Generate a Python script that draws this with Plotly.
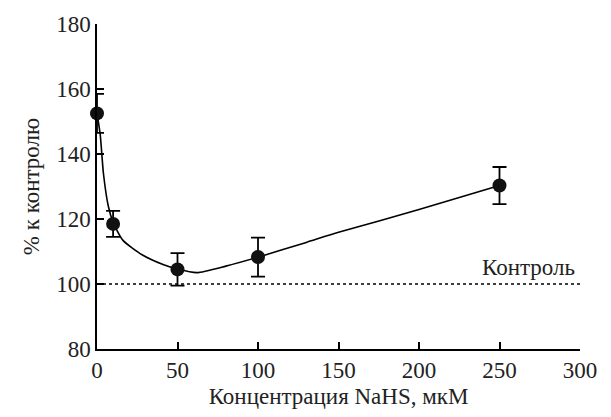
import plotly.graph_objects as go

# measured points
conc = [0, 10, 50, 100, 250]
pct = [152.5, 118.5, 104.5, 108.3, 130.3]
err = [6.0, 4.0, 5.0, 6.0, 5.7]

# fitted curve
curve_x = [0, 2, 4, 7, 10, 16, 28, 41, 50, 62, 80, 101, 130, 150, 200, 250]
curve_y = [152.5, 146, 134, 124, 119, 113.5, 109, 106, 104.6, 103.5, 105.5, 108.4, 112.8, 115.9, 122.9, 130.3]

control_level = 100
control_label = "Контроль"
x_ticks = [0, 50, 100, 150, 200, 250, 300]
y_ticks = [80, 100, 120, 140, 160, 180]

FONT = "Liberation Serif"
FS = 23
TXT = dict(family=FONT, size=FS, color="#222222")

fig = go.Figure()
fig.add_trace(go.Scatter(
    x=[0, 300], y=[control_level, control_level], mode="lines",
    line=dict(color="black", width=1.3, dash="dot"),
    hoverinfo="skip", showlegend=False, cliponaxis=False))
fig.add_trace(go.Scatter(
    x=curve_x, y=curve_y, mode="lines",
    line=dict(color="black", width=1.6, shape="spline", smoothing=0.6),
    showlegend=False, cliponaxis=False))
fig.add_trace(go.Scatter(
    x=conc, y=pct, mode="markers",
    marker=dict(color="#111111", size=14),
    error_y=dict(type="data", array=err, color="black", thickness=1.8, width=7),
    showlegend=False, cliponaxis=False))

fig.add_annotation(x=268, y=control_level, xref="x", yref="y",
                   text=control_label, showarrow=False, yanchor="bottom", yshift=2,
                   font=TXT)

fig.update_layout(
    width=611, height=417,
    margin=dict(l=97, r=31, t=21, b=67),
    paper_bgcolor="white", plot_bgcolor="white",
)
fig.update_xaxes(
    range=[0, 300], tickvals=x_ticks, ticks="inside", ticklen=7, tickwidth=1.5,
    tickcolor="black", showline=True, linecolor="black", linewidth=1.5,
    showgrid=False, zeroline=False, tickfont=TXT,
    title=dict(text="Концентрация NaHS, мкМ", font=TXT, standoff=6),
)
fig.update_yaxes(
    range=[80, 180], tickvals=y_ticks, ticks="inside", ticklen=7, tickwidth=1.5,
    tickcolor="black", showline=True, linecolor="black", linewidth=1.5,
    showgrid=False, zeroline=False, tickfont=TXT,
    title=dict(text="% к контролю", font=TXT, standoff=10),
)

fig.write_html("out.html")
